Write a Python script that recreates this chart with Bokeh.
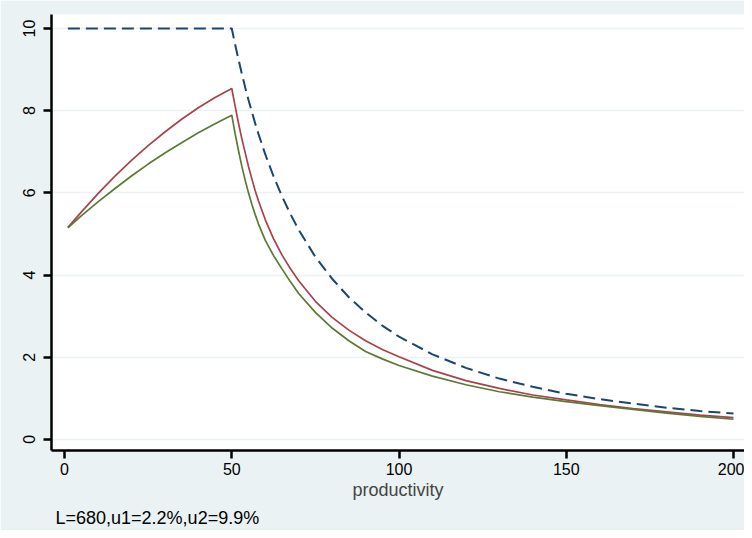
from bokeh.plotting import figure
from bokeh.models import Range1d, FixedTicker, Title
from bokeh.embed import file_html
from bokeh.resources import INLINE

productivity = [1, 5, 10, 15, 20, 25, 30, 35, 40, 45, 50,
                51, 52, 53, 54, 55, 56, 57, 58,
                60, 62.5, 65, 67.5, 70,
                75, 80, 85, 90, 95, 100,
                110, 120, 130, 140, 150, 160, 170, 180, 190, 200]
series_dash = [10, 10, 10, 10, 10, 10, 10, 10, 10, 10, 10,
               9.61, 9.25, 8.9, 8.57, 8.26, 7.97, 7.69, 7.43,
               6.94, 6.4, 5.92, 5.49, 5.1,
               4.44, 3.91, 3.46, 3.09, 2.77, 2.5,
               2.07, 1.74, 1.48, 1.28, 1.11, 0.98, 0.87, 0.77, 0.69, 0.63]
series_red = [5.16, 5.53, 5.98, 6.40, 6.79, 7.15, 7.48, 7.79, 8.07, 8.32, 8.54,
              8.11, 7.70, 7.32, 6.98, 6.64, 6.34, 6.05, 5.80,
              5.35, 4.88, 4.49, 4.16, 3.86,
              3.36, 2.97, 2.66, 2.40, 2.19, 2.01,
              1.68, 1.43, 1.24, 1.08, 0.96, 0.85, 0.75, 0.67, 0.59, 0.53]
series_green = [5.15, 5.44, 5.78, 6.10, 6.41, 6.70, 6.97, 7.22, 7.46, 7.68, 7.89,
                7.44, 7.03, 6.65, 6.31, 6.0, 5.72, 5.47, 5.24,
                4.85, 4.47, 4.15, 3.84, 3.55,
                3.09, 2.71, 2.40, 2.14, 1.96, 1.80,
                1.54, 1.33, 1.16, 1.03, 0.92, 0.82, 0.73, 0.64, 0.56, 0.49]
x_ticks = [0, 50, 100, 150, 200]
y_ticks = [0, 2, 4, 6, 8, 10]
x_title = "productivity"
note = "L=680,u1=2.2%,u2=9.9%"

FONT = "Liberation Sans"
BG = "#EAF2F3"

p = figure(width=744, height=530, output_backend="svg", toolbar_location=None,
           x_range=Range1d(-3.9, 203.3), y_range=Range1d(-0.27, 10.34),
           min_border_left=51, min_border_right=0, min_border_top=14, min_border_bottom=78,
           background_fill_color="white", border_fill_color=BG, outline_line_color=None)

p.line(productivity, series_dash, line_color="#1A476F", line_width=2, line_dash="12 6")
p.line(productivity, series_red, line_color="#A8424C", line_width=1.7)
p.line(productivity, series_green, line_color="#5A7A35", line_width=1.7)

p.xgrid.visible = False
p.ygrid.grid_line_color = BG
p.ygrid.grid_line_width = 1.5

for ax in (p.xaxis[0], p.yaxis[0]):
    ax.axis_line_color = "black"
    ax.axis_line_width = 2.5
    ax.major_tick_line_color = "black"
    ax.major_tick_line_width = 2.5
    ax.major_tick_out = 8
    ax.major_tick_in = 0
    ax.minor_tick_line_color = None
    ax.major_label_text_font = FONT
    ax.major_label_text_font_size = "16px"
    ax.major_label_text_color = "black"

p.xaxis.ticker = FixedTicker(ticks=x_ticks)
p.yaxis.ticker = FixedTicker(ticks=y_ticks)
p.yaxis.major_label_orientation = "vertical"
p.xaxis.major_label_standoff = 4
p.yaxis.major_label_standoff = 8
p.xaxis.axis_label = x_title
p.xaxis.axis_label_text_font = FONT
p.xaxis.axis_label_text_font_size = "18px"
p.xaxis.axis_label_text_font_style = "normal"
p.xaxis.axis_label_standoff = 2

p.add_layout(Title(text=note, align="left", text_font=FONT, text_font_size="18px",
                   text_font_style="normal", text_color="black", offset=4, standoff=6), "below")

open("out.html", "w").write(file_html(p, INLINE))
